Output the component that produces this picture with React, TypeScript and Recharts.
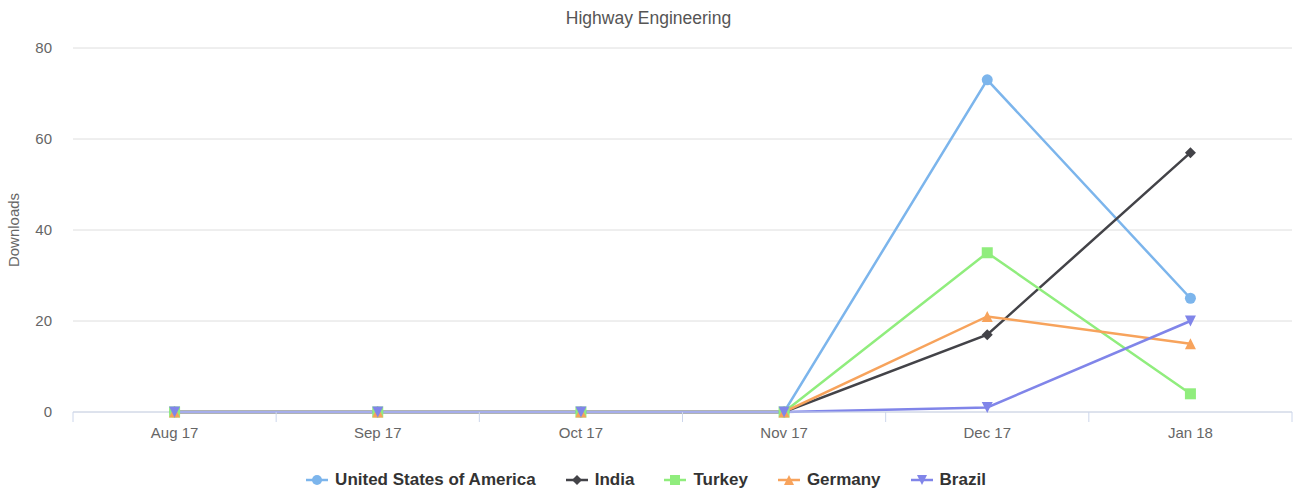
import { CartesianGrid, Legend, Line, LineChart, XAxis, YAxis } from "recharts";

const categories = ["Aug 17", "Sep 17", "Oct 17", "Nov 17", "Dec 17", "Jan 18"];
const usa = [0, 0, 0, 0, 73, 25];
const india = [0, 0, 0, 0, 17, 57];
const turkey = [0, 0, 0, 0, 35, 4];
const germany = [0, 0, 0, 0, 21, 15];
const brazil = [0, 0, 0, 0, 1, 20];
const yTicks = [0, 20, 40, 60, 80];

const series = [
  { key: "usa", name: "United States of America", values: usa, color: "#7cb5ec", shape: "circle" },
  { key: "india", name: "India", values: india, color: "#434348", shape: "diamond" },
  { key: "turkey", name: "Turkey", values: turkey, color: "#90ed7d", shape: "square" },
  { key: "germany", name: "Germany", values: germany, color: "#f7a35c", shape: "triangle" },
  { key: "brazil", name: "Brazil", values: brazil, color: "#8085e9", shape: "triangle-down" },
];

const data = categories.map((c, i) => {
  const row: Record<string, string | number> = { month: c };
  series.forEach((s) => (row[s.key] = s.values[i]));
  return row;
});

const FONT = "'Liberation Sans', Arial, Helvetica, sans-serif";
const W = 1297;
const H = 492;
const PLOT_LEFT = 73;
const PLOT_RIGHT = 5;

function Marker({ shape, cx, cy, color, r = 5.5 }: { shape: string; cx: number; cy: number; color: string; r?: number }) {
  if (cx == null || cy == null) return null;
  switch (shape) {
    case "circle":
      return <circle cx={cx} cy={cy} r={r} fill={color} />;
    case "diamond":
      return <path d={`M${cx} ${cy - r}L${cx + r} ${cy}L${cx} ${cy + r}L${cx - r} ${cy}Z`} fill={color} />;
    case "square":
      return <rect x={cx - r} y={cy - r} width={r * 2} height={r * 2} fill={color} />;
    case "triangle":
      return <path d={`M${cx} ${cy - r}L${cx + r} ${cy + r}L${cx - r} ${cy + r}Z`} fill={color} />;
    default:
      return <path d={`M${cx - r} ${cy - r}L${cx + r} ${cy - r}L${cx} ${cy + r}Z`} fill={color} />;
  }
}

// category axis: tick marks sit on the band edges, labels in the band centres
function XTick(props: any) {
  const { x, y, payload, index } = props;
  const half = payload?.offset || (W - PLOT_LEFT - PLOT_RIGHT) / categories.length / 2;
  const last = index === categories.length - 1;
  return (
    <g>
      <line x1={x - half} x2={x - half} y1={y} y2={y + 10} stroke="#ccd6eb" />
      {last && <line x1={x + half} x2={x + half} y1={y} y2={y + 10} stroke="#ccd6eb" />}
      <text x={x} y={y + 26} textAnchor="middle" fill="#666666" fontSize={15} fontFamily={FONT}>
        {payload.value}
      </text>
    </g>
  );
}

function LegendContent() {
  return (
    <div style={{ display: "flex", justifyContent: "center", alignItems: "center", height: 24, gap: 30 }}>
      {series.map((s) => (
        <div key={s.key} style={{ display: "flex", alignItems: "center", gap: 7 }}>
          <svg width={22} height={12}>
            <line x1={0} x2={22} y1={6} y2={6} stroke={s.color} strokeWidth={2.5} />
            <Marker shape={s.shape} cx={11} cy={6} color={s.color} r={5} />
          </svg>
          <span style={{ fontFamily: FONT, fontWeight: "bold", fontSize: 17, color: "#333333" }}>{s.name}</span>
        </div>
      ))}
    </div>
  );
}

export default function App() {
  return (
    <div style={{ position: "absolute", left: 0, top: 0, width: W, height: H, background: "#fff" }}>
      <div
        style={{
          position: "absolute",
          top: 8,
          left: 0,
          width: W,
          textAlign: "center",
          fontFamily: FONT,
          fontSize: 17.5,
          lineHeight: "20px",
          color: "#555555",
        }}
      >
        Highway Engineering
      </div>
      <LineChart width={W} height={H} data={data} margin={{ top: 48, right: PLOT_RIGHT, bottom: 0, left: 0 }}>
        <CartesianGrid vertical={false} stroke="#dedede" />
        <XAxis
          dataKey="month"
          scale="band"
          height={56}
          stroke="#ccd6eb"
          tickLine={false}
          tickSize={0}
          tickMargin={0}
          interval={0}
          tick={<XTick />}
        />
        <YAxis
          width={PLOT_LEFT}
          domain={[0, 80]}
          ticks={yTicks}
          axisLine={false}
          tickLine={false}
          tickSize={0}
          tickMargin={21}
          tick={{ fill: "#666666", fontSize: 15, fontFamily: FONT }}
          label={{
            value: "Downloads",
            angle: -90,
            position: "insideLeft",
            offset: 14,
            style: { textAnchor: "middle", fill: "#666666", fontSize: 15, fontFamily: FONT },
          }}
        />
        <Legend verticalAlign="bottom" content={<LegendContent />} wrapperStyle={{ height: 24 }} />
        {series.map((s) => (
          <Line
            key={s.key}
            dataKey={s.key}
            name={s.name}
            stroke={s.color}
            strokeWidth={2.5}
            isAnimationActive={false}
            dot={(p: any) => <Marker key={`${s.key}-${p.index}`} shape={s.shape} cx={p.cx} cy={p.cy} color={s.color} />}
            activeDot={false}
          />
        ))}
      </LineChart>
    </div>
  );
}
